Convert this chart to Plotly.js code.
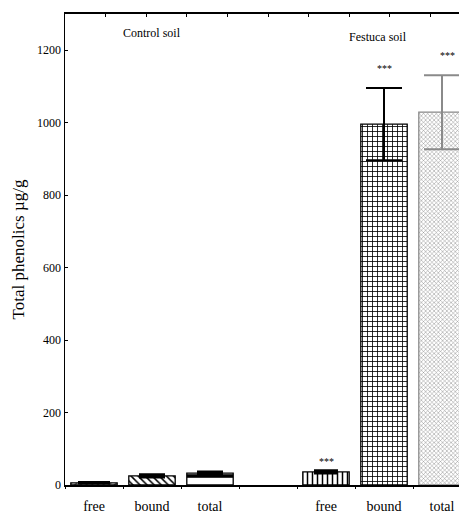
<!DOCTYPE html>
<html><head><meta charset="utf-8">
<script src="https://cdn.plot.ly/plotly-3.0.1.min.js"></script>
<style>html,body{margin:0;padding:0;overflow:hidden;background:#fff}#chart{width:480px;height:515px}</style>
</head><body><div id="chart"></div>
<script>
// Data
const groups = ["Control soil", "Festuca soil"];
const categories = ["free", "bound", "total", "free", "bound", "total"];
const slotIndex = [0, 1, 2, 4, 5, 6];
const values = [6, 25, 33, 36, 996, 1029];
const errors = [2, 3, 3, 3, 100, 102];
const significance = ["", "", "", "***", "***", "***"];

// Styles (kept separate from data)
const patShape = ["/", "\\", "-", "|", "+", "x"];
const patSize = [4, 5, 12, 5, 5, 3];
const patColor = ["#333", "#000", "#000", "#000", "#000", "#8a8a8a"];
const lineColor = ["#000", "#000", "#000", "#000", "#000", "#8a8a8a"];
const errThick = [2, 3, 3, 3, 2, 2];
const errWidth = [16, 13, 13, 12, 18, 18];
const serif = "Liberation Serif, Times New Roman, serif";

const traces = values.map((v, i) => ({
  type: "bar",
  x: [slotIndex[i] + 0.5],
  y: [v],
  width: 0.8,
  marker: {
    color: "#fff",
    line: {color: lineColor[i], width: 1.3},
    pattern: {shape: patShape[i], size: patSize[i], fgcolor: patColor[i], bgcolor: "#fff", solidity: 0.3}
  },
  error_y: {type: "data", array: [errors[i]], visible: true, color: lineColor[i], thickness: errThick[i], width: errWidth[i]},
  showlegend: false,
  hoverinfo: "skip"
}));
// dummy traces for extra tick axes
traces.push({type: "scatter", x: [0], y: [0], xaxis: "x2", mode: "markers", marker: {opacity: 0}, showlegend: false, hoverinfo: "skip"});
traces.push({type: "scatter", x: [0], y: [0], xaxis: "x3", mode: "markers", marker: {opacity: 0}, showlegend: false, hoverinfo: "skip"});

const annotations = [
  {x: 1.5, y: 1247, text: groups[0]},
  {x: 5.4, y: 1236, text: groups[1]}
].map(a => Object.assign(a, {xref: "x", yref: "y", showarrow: false, font: {family: serif, size: 12, color: "#000"}}));
const starOffsets = [0, 0, 0, 30, 54, 55];
values.forEach((v, i) => {
  if (significance[i]) annotations.push({
    x: slotIndex[i] + 0.5 + (i === 5 ? 0.09 : 0), y: v + starOffsets[i] + (i >= 4 ? errors[i] : 0),
    xref: "x", yref: "y", text: significance[i], showarrow: false,
    font: {family: serif, size: 10, color: "#000"}
  });
});

const layout = {
  width: 480, height: 515,
  margin: {l: 65, r: 9, t: 14, b: 30},
  paper_bgcolor: "#fff", plot_bgcolor: "#fff",
  font: {family: serif, size: 12, color: "#000"},
  xaxis: {
    range: [0, 7], tickvals: slotIndex.map(s => s + 0.5),
    ticktext: categories,
    ticks: "", showline: true, linecolor: "#000", linewidth: 1.5,
    showgrid: false, zeroline: false, tickfont: {family: serif, size: 14, color: "#000"},
    ticklabelstandoff: 8
  },
  xaxis3: {
    overlaying: "x", range: [0, 7], tickvals: [0, 1, 2, 3, 4, 5, 6, 7],
    showticklabels: false, ticks: "outside", ticklen: 3, tickcolor: "#000",
    showgrid: false, zeroline: false, showline: false
  },
  xaxis2: {
    overlaying: "x", side: "top", range: [0, 10], tickvals: [0,1,2,3,4,5,6,7,8,9,10],
    showticklabels: false, ticks: "inside", ticklen: 3, tickcolor: "#000",
    showline: true, linecolor: "#000", linewidth: 2.5, showgrid: false, zeroline: false
  },
  yaxis: {
    range: [0, 1300], tickvals: [0, 200, 400, 600, 800, 1000, 1200],
    ticks: "inside", ticklen: 3, tickcolor: "#000",
    showline: true, linecolor: "#000", linewidth: 1.5, showgrid: false, zeroline: false,
    tickfont: {family: serif, size: 12, color: "#000"},
    title: {text: "Total phenolics µg/g", font: {family: serif, size: 17, color: "#000"}, standoff: 8}
  },
  annotations: annotations
};
Plotly.newPlot("chart", traces, layout, {staticPlot: true, displayModeBar: false});
</script></body></html>
